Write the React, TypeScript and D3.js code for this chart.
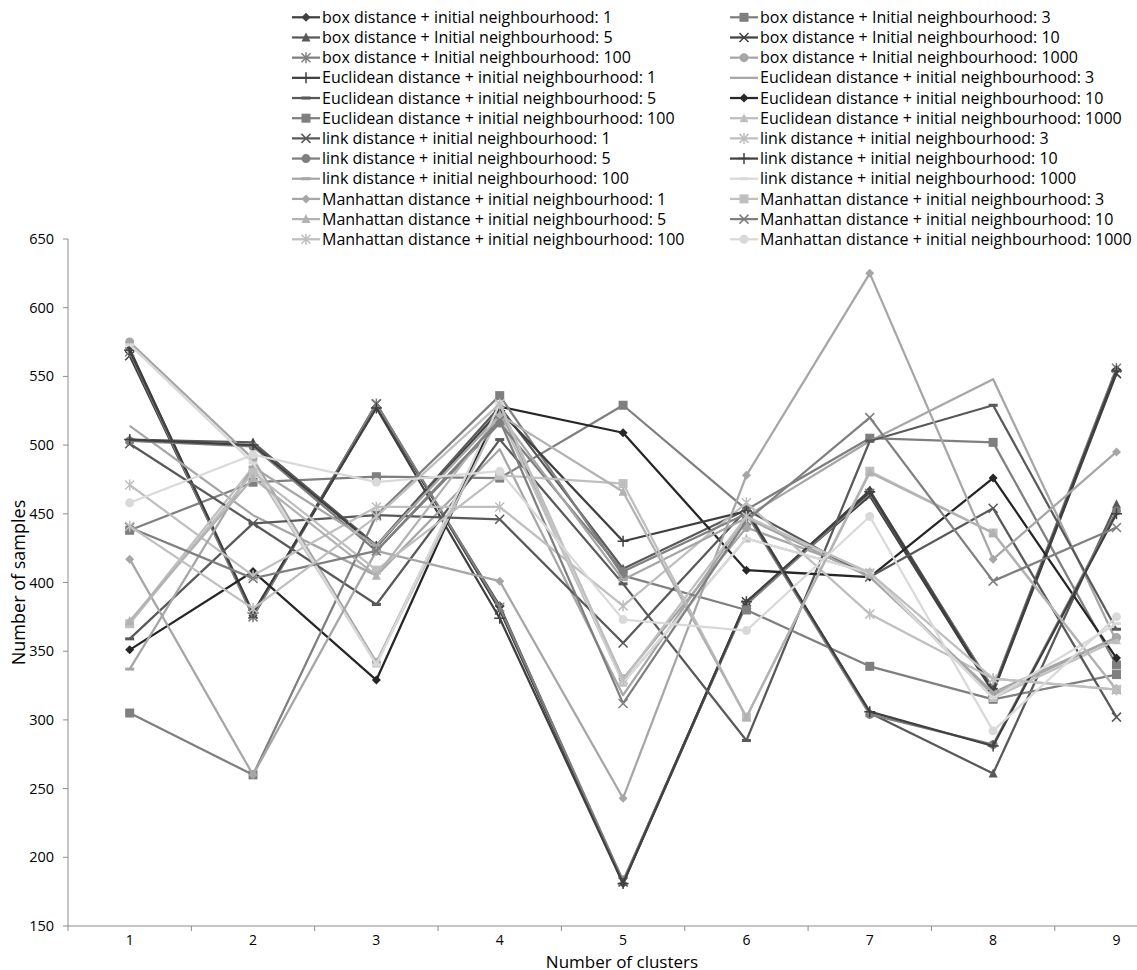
import React from "react";
import * as d3 from "d3";

const categories = [1, 2, 3, 4, 5, 6, 7, 8, 9];
const yTickValues = [150, 200, 250, 300, 350, 400, 450, 500, 550, 600, 650];

const seriesNames = [
  "box distance + initial neighbourhood: 1",
  "box distance + Initial neighbourhood: 3",
  "box distance + Initial neighbourhood: 5",
  "box distance + Initial neighbourhood: 10",
  "box distance + Initial neighbourhood: 100",
  "box distance + Initial neighbourhood: 1000",
  "Euclidean distance + initial neighbourhood: 1",
  "Euclidean distance + initial neighbourhood: 3",
  "Euclidean distance + initial neighbourhood: 5",
  "Euclidean distance + initial neighbourhood: 10",
  "Euclidean distance + initial neighbourhood: 100",
  "Euclidean distance + initial neighbourhood: 1000",
  "link distance + initial neighbourhood: 1",
  "link distance + initial neighbourhood: 3",
  "link distance + initial neighbourhood: 5",
  "link distance + initial neighbourhood: 10",
  "link distance + initial neighbourhood: 100",
  "link distance + initial neighbourhood: 1000",
  "Manhattan distance + initial neighbourhood: 1",
  "Manhattan distance + initial neighbourhood: 3",
  "Manhattan distance + initial neighbourhood: 5",
  "Manhattan distance + initial neighbourhood: 10",
  "Manhattan distance + initial neighbourhood: 100",
  "Manhattan distance + initial neighbourhood: 1000",
];

const box1 = [570, 376, 528, 383, 181, 385, 467, 322, 555];
const box3 = [438, 473, 477, 476, 529, 453, 505, 502, 340];
const box5 = [504, 502, 427, 528, 410, 453, 305, 261, 457];
const box10 = [565, 377, 530, 380, 182, 386, 463, 320, 552];
const box100 = [568, 375, 530, 382, 183, 384, 465, 323, 556];
const box1000 = [575, 490, 342, 526, 330, 440, 407, 318, 360];
const euc1 = [569, 378, 527, 374, 181, 386, 466, 321, 554];
const euc3 = [514, 449, 405, 497, 318, 448, 503, 548, 357];
const euc5 = [359, 443, 384, 504, 399, 285, 503, 529, 366];
const euc10 = [351, 408, 329, 528, 509, 409, 404, 476, 345];
const euc100 = [305, 260, 449, 536, 405, 380, 339, 315, 333];
const euc1000 = [371, 484, 341, 522, 327, 432, 407, 316, 358];
const link1 = [501, 443, 449, 446, 356, 453, 404, 454, 302];
const link3 = [471, 405, 455, 455, 383, 458, 377, 330, 322];
const link5 = [503, 499, 423, 516, 408, 450, 304, 282, 452];
const link10 = [504, 500, 426, 525, 430, 452, 306, 281, 450];
const link100 = [337, 484, 427, 522, 402, 447, 404, 320, 360];
const link1000 = [573, 487, 340, 530, 327, 432, 407, 316, 370];
const manh1 = [417, 260, 423, 401, 243, 478, 625, 417, 495];
const manh3 = [370, 480, 409, 478, 472, 302, 481, 436, 322];
const manh5 = [372, 476, 405, 522, 466, 302, 480, 436, 322];
const manh10 = [440, 403, 423, 518, 312, 445, 520, 401, 440];
const manh100 = [441, 381, 448, 530, 329, 448, 407, 330, 322];
const manh1000 = [458, 493, 473, 481, 373, 365, 448, 292, 375];

const seriesValues = [
  box1, box3, box5, box10, box100, box1000,
  euc1, euc3, euc5, euc10, euc100, euc1000,
  link1, link3, link5, link10, link100, link1000,
  manh1, manh3, manh5, manh10, manh100, manh1000,
];

const seriesColors = [
  "#404040", "#7f7f7f", "#595959", "#404040", "#7f7f7f", "#a6a6a6",
  "#404040", "#a6a6a6", "#595959", "#262626", "#7f7f7f", "#bfbfbf",
  "#595959", "#bfbfbf", "#7f7f7f", "#404040", "#a6a6a6", "#d9d9d9",
  "#a6a6a6", "#bfbfbf", "#b2b2b2", "#7f7f7f", "#bfbfbf", "#d9d9d9",
];

const seriesMarkers = [
  "diamond", "square", "triangle", "x", "star", "circle",
  "plus", "none", "dash", "diamond", "square", "triangle",
  "x", "star", "circle", "plus", "dash", "dash",
  "diamond", "square", "triangle", "x", "star", "circle",
];

const FONT = "'Open Sans', 'Liberation Sans', sans-serif";

function Marker({ type, x, y, color, s = 1 }: { type: string; x: number; y: number; color: string; s?: number }) {
  const r = 4.5 * s;
  switch (type) {
    case "diamond":
      return <path d={`M${x},${y - r}L${x + r},${y}L${x},${y + r}L${x - r},${y}Z`} fill={color} />;
    case "square":
      return <rect x={x - r} y={y - r} width={2 * r} height={2 * r} fill={color} />;
    case "triangle":
      return <path d={`M${x},${y - r - 0.5}L${x + r},${y + r - 0.5}L${x - r},${y + r - 0.5}Z`} fill={color} />;
    case "circle":
      return <circle cx={x} cy={y} r={r} fill={color} />;
    case "x":
      return (
        <path d={`M${x - r},${y - r}L${x + r},${y + r}M${x - r},${y + r}L${x + r},${y - r}`} stroke={color} strokeWidth={1.5} />
      );
    case "star":
      return (
        <path
          d={`M${x - r},${y - r}L${x + r},${y + r}M${x - r},${y + r}L${x + r},${y - r}M${x},${y - r - 1}L${x},${y + r + 1}`}
          stroke={color}
          strokeWidth={1.5}
        />
      );
    case "plus":
      return (
        <path d={`M${x - r - 1},${y}L${x + r + 1},${y}M${x},${y - r - 1}L${x},${y + r + 1}`} stroke={color} strokeWidth={1.5} />
      );
    case "dash":
      return <rect x={x - r} y={y - 1.5} width={2 * r} height={3} fill={color} />;
    default:
      return null;
  }
}

export default function App() {
  const width = 1137;
  const height = 970;
  const left = 68;
  const top = 239;
  const bottom = 926;
  const bandW = 123.35;

  const x = d3
    .scaleBand<number>()
    .domain(categories)
    .range([left, left + bandW * categories.length])
    .paddingInner(0)
    .paddingOuter(0);
  const y = d3.scaleLinear().domain([150, 650]).range([bottom, top]);
  const cx = (c: number) => (x(c) as number) + x.bandwidth() / 2;

  const line = d3
    .line<number>()
    .x((_, i) => cx(categories[i]))
    .y((v) => y(v));

  const axisColor = "#8c8c8c";
  const boundaries = categories.map((c) => x(c) as number).concat([(x(9) as number) + x.bandwidth()]);

  const legendRow0 = 17.3;
  const legendRowH = 20.18;
  const legendCols = [
    { lineX: 292, textX: 322 },
    { lineX: 730, textX: 760 },
  ];

  return (
    <svg width={width} height={height} style={{ display: "block", position: "absolute", left: 0, top: 0 }}>
      <rect x={0} y={0} width={width} height={height} fill="#ffffff" />
      <defs>
        <clipPath id="plotClip">
          <rect x={left} y={top - 20} width={1123 - left} height={bottom - top + 30} />
        </clipPath>
      </defs>

      {/* y axis */}
      <line x1={left} y1={top} x2={left} y2={bottom} stroke={axisColor} strokeWidth={1} />
      {yTickValues.map((t) => (
        <g key={t}>
          <line x1={left - 5} x2={left} y1={y(t)} y2={y(t)} stroke={axisColor} strokeWidth={1} />
          <text x={54} y={y(t)} dy="0.35em" textAnchor="end" fontFamily={FONT} fontSize={14.5} fill="#000">
            {t}
          </text>
        </g>
      ))}

      {/* x axis */}
      <line x1={left} y1={bottom} x2={width} y2={bottom} stroke={axisColor} strokeWidth={1} />
      {boundaries.map((b, i) => (
        <line key={i} x1={b} x2={b} y1={bottom} y2={bottom + 5} stroke={axisColor} strokeWidth={1} />
      ))}
      {categories.map((c) => (
        <text key={c} x={cx(c)} y={940.5} dy="0.35em" textAnchor="middle" fontFamily={FONT} fontSize={14} fill="#000">
          {c}
        </text>
      ))}

      {/* axis titles */}
      <text x={622} y={967.5} textAnchor="middle" fontFamily={FONT} fontSize={17} fill="#000">
        Number of clusters
      </text>
      <text
        transform={`translate(19,${(top + bottom) / 2}) rotate(-90)`}
        textAnchor="middle"
        dy="0.35em"
        fontFamily={FONT}
        fontSize={18}
        fill="#000"
      >
        Number of samples
      </text>

      {/* series */}
      <g clipPath="url(#plotClip)">
        {seriesValues.map((vals, si) => (
          <g key={si}>
            <path d={line(vals) || ""} fill="none" stroke={seriesColors[si]} strokeWidth={2.25} strokeLinejoin="round" />
            {vals.map((v, i) => (
              <Marker key={i} type={seriesMarkers[si]} x={cx(categories[i])} y={y(v)} color={seriesColors[si]} />
            ))}
          </g>
        ))}
      </g>

      {/* legend */}
      {seriesNames.map((name, i) => {
        const col = legendCols[i % 2];
        const row = Math.floor(i / 2);
        const ly = legendRow0 + row * legendRowH;
        return (
          <g key={name}>
            <line x1={col.lineX} x2={col.lineX + 28} y1={ly} y2={ly} stroke={seriesColors[i]} strokeWidth={2.25} />
            <Marker type={seriesMarkers[i]} x={col.lineX + 14} y={ly} color={seriesColors[i]} />
            <text x={col.textX} y={ly} dy="0.35em" fontFamily={FONT} fontSize={16} fill="#000">
              {name}
            </text>
          </g>
        );
      })}
    </svg>
  );
}
